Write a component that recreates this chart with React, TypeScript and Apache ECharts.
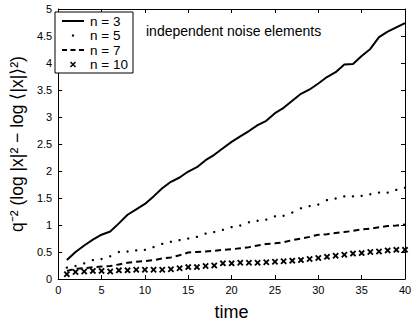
import React, { useEffect, useRef } from "react";
import * as echarts from "echarts";

const times = Array.from({ length: 40 }, (_, i) => i + 1);

const n3 = [0.35, 0.5, 0.62, 0.73, 0.82, 0.88, 1.03, 1.19, 1.29, 1.39, 1.53, 1.68, 1.8, 1.88, 1.99, 2.07, 2.2, 2.3, 2.42, 2.54, 2.64, 2.74, 2.85, 2.93, 3.07, 3.17, 3.3, 3.43, 3.51, 3.62, 3.74, 3.83, 3.97, 3.98, 4.13, 4.26, 4.48, 4.58, 4.66, 4.74];
const n5 = [0.21, 0.24, 0.29, 0.35, 0.37, 0.42, 0.5, 0.51, 0.53, 0.54, 0.59, 0.65, 0.69, 0.72, 0.75, 0.78, 0.84, 0.87, 0.91, 0.96, 0.99, 1.05, 1.08, 1.1, 1.16, 1.17, 1.23, 1.31, 1.35, 1.38, 1.46, 1.49, 1.53, 1.53, 1.54, 1.57, 1.6, 1.6, 1.65, 1.69];
const n7 = [0.15, 0.19, 0.2, 0.22, 0.23, 0.24, 0.27, 0.3, 0.32, 0.33, 0.35, 0.38, 0.4, 0.44, 0.49, 0.5, 0.51, 0.52, 0.54, 0.55, 0.57, 0.59, 0.62, 0.65, 0.66, 0.68, 0.72, 0.75, 0.78, 0.82, 0.83, 0.85, 0.87, 0.89, 0.92, 0.93, 0.96, 0.98, 0.99, 1.01];
const n10 = [0.09, 0.13, 0.14, 0.15, 0.15, 0.14, 0.16, 0.16, 0.17, 0.17, 0.17, 0.17, 0.18, 0.2, 0.22, 0.22, 0.24, 0.25, 0.29, 0.29, 0.3, 0.3, 0.3, 0.31, 0.32, 0.33, 0.34, 0.35, 0.37, 0.39, 0.41, 0.43, 0.45, 0.47, 0.48, 0.5, 0.51, 0.53, 0.54, 0.54];

const seriesNames = ["n = 3", "n = 5", "n = 7", "n = 10"];
const annotation = "independent noise elements";
const xTitle = "time";
const yTitle = "q\u207B\u00B2 (log |x|\u00B2 \u2212 log \u27E8|x|\u27E9\u00B2)";

const FONT = "Liberation Sans, Arial, Helvetica, sans-serif";
const CROSS = "path://M0,2L2,0L5,3L8,0L10,2L7,5L10,8L8,10L5,7L2,10L0,8L3,5Z";

const pairs = (ys: number[]) => times.map((t, i) => [t, ys[i]]);

export default function App() {
  const ref = useRef<HTMLDivElement>(null);
  useEffect(() => {
    if (!ref.current) return;
    const chart = echarts.init(ref.current, undefined, { renderer: "svg" });
    const axisCommon = {
      axisLine: { show: true, onZero: false, lineStyle: { color: "#000", width: 1 } },
      axisTick: { show: true, inside: true, length: 4, lineStyle: { color: "#000" } },
      splitLine: { show: false },
    };
    const legendRows = [21, 35.5, 50, 64.5];
    const cy = legendRows[3];
    const legendGraphics: any[] = [
      { type: "rect", shape: { x: 55, y: 12, width: 78, height: 61 }, style: { fill: "#fff", stroke: "#000", lineWidth: 1 }, z: 10 },
      { type: "line", shape: { x1: 62, y1: legendRows[0], x2: 84, y2: legendRows[0] }, style: { stroke: "#000", lineWidth: 2 }, z: 11 },
      { type: "circle", shape: { cx: 73, cy: legendRows[1], r: 1.2 }, style: { fill: "#000" }, z: 11 },
      { type: "line", shape: { x1: 62, y1: legendRows[2], x2: 84, y2: legendRows[2] }, style: { stroke: "#000", lineWidth: 2, lineDash: [5, 3.5] }, z: 11 },
      { type: "polygon", shape: { points: [[70, cy - 2], [71, cy - 3], [73, cy - 1], [75, cy - 3], [76, cy - 2], [74, cy], [76, cy + 2], [75, cy + 3], [73, cy + 1], [71, cy + 3], [70, cy + 2], [72, cy]] }, style: { fill: "#000" }, z: 11 },
    ];
    seriesNames.forEach((name, i) => {
      legendGraphics.push({
        type: "text",
        x: 90,
        y: legendRows[i],
        style: { text: name, font: `13.5px ${FONT}`, fill: "#000", verticalAlign: "middle", align: "left" },
        z: 11,
      });
    });
    chart.setOption({
      animation: false,
      backgroundColor: "#fff",
      textStyle: { fontFamily: FONT },
      grid: { left: 52, right: 10, top: 9, bottom: 38, containLabel: false },
      xAxis: [
        {
          type: "value", min: 0, max: 40, interval: 5, position: "bottom",
          ...axisCommon,
          axisLabel: { color: "#000", fontSize: 11, margin: 5, fontFamily: FONT },
          name: xTitle, nameLocation: "middle", nameGap: 24,
          nameTextStyle: { fontSize: 18, color: "#000", fontFamily: FONT },
        },
        { type: "value", min: 0, max: 40, interval: 5, position: "top", ...axisCommon, axisLabel: { show: false } },
      ],
      yAxis: [
        {
          type: "value", min: 0, max: 5, interval: 0.5, position: "left",
          ...axisCommon,
          axisLabel: { color: "#000", fontSize: 11, margin: 6, fontFamily: FONT },
          name: yTitle, nameLocation: "middle", nameGap: 19, nameRotate: 90,
          nameTextStyle: { fontSize: 17.5, color: "#000", fontFamily: FONT },
        },
        { type: "value", min: 0, max: 5, interval: 0.5, position: "right", ...axisCommon, axisLabel: { show: false } },
      ],
      series: [
        { name: seriesNames[0], type: "line", data: pairs(n3), showSymbol: false, symbol: "none", lineStyle: { color: "#000", width: 2 } },
        { name: seriesNames[1], type: "line", data: pairs(n5), symbol: "circle", symbolSize: 2.4, itemStyle: { color: "#000" }, lineStyle: { width: 0, opacity: 0 } },
        { name: seriesNames[2], type: "line", data: pairs(n7), showSymbol: false, symbol: "none", lineStyle: { color: "#000", width: 2, type: [6, 4] } },
        { name: seriesNames[3], type: "line", data: pairs(n10), symbol: CROSS, symbolSize: 6.5, itemStyle: { color: "#000" }, lineStyle: { width: 0, opacity: 0 } },
      ],
      graphic: [
        ...legendGraphics,
        { type: "text", x: 146, y: 31, style: { text: annotation, font: `14px ${FONT}`, fill: "#000", verticalAlign: "middle", align: "left" }, z: 11 },
      ],
    });
    return () => chart.dispose();
  }, []);
  return <div ref={ref} style={{ position: "fixed", left: 0, top: 0, width: 415, height: 326 }} />;
}
